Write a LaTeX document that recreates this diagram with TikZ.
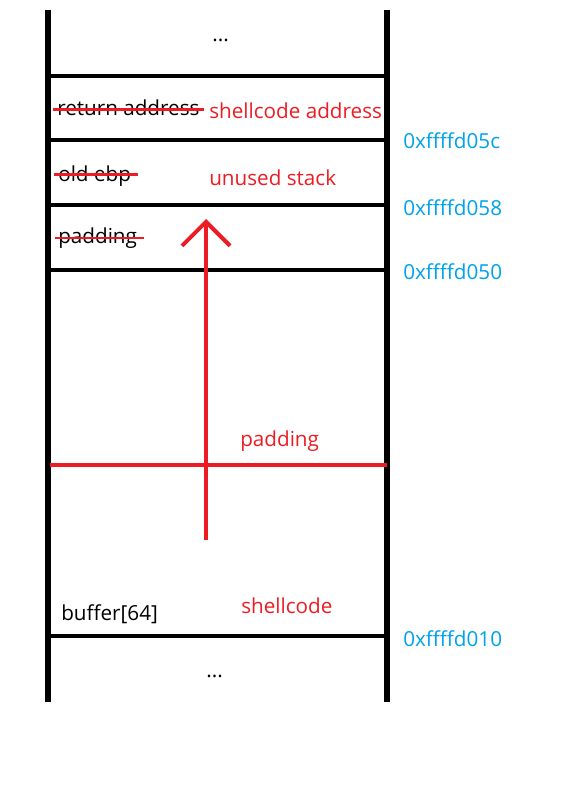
\documentclass[tikz,border=0pt]{standalone}
\usepackage{fontspec}
\setmainfont{Open Sans}
\usetikzlibrary{arrows.meta, positioning}
\definecolor{paintred}{RGB}{237,28,36}
\definecolor{paintblue}{RGB}{0,162,232}
\tikzset{
    % line styles
    wall/.style = {line width=3.8pt, black},
    slot/.style = {line width=3.4pt, black},
    redline/.style = {line width=3pt, paintred},
    strike/.style = {line width=2.2pt, paintred},
    % text styles
    old/.style = {anchor=west, inner sep=0pt, font=\fontsize{15.5}{18}\selectfont},
    new/.style = {old, text=paintred},
    addr/.style = {old, text=paintblue}
}

\begin{document}
\begin{tikzpicture}[x=0.75pt, y=-0.75pt]
        \useasboundingbox (0,0) rectangle (584,798);
        
        % stack walls
        \coordinate (topL) at (48,10);
        \coordinate (topR) at (387,10);
        \coordinate (botL) at (48,702);
        \coordinate (botR) at (387,702);
        \draw[wall] (topL) -- (botL);
        \draw[wall] (topR) -- (botR);
        
        % slot borders
        \foreach \name/\y in {b1/76, b2/140, b3/205, b4/270, b5/636} {
            \coordinate (\name L) at (48,\y);
            \coordinate (\name R) at (387,\y);
            \draw[slot] (\name L) -- (\name R);
        }
        
        % padding border
        \coordinate (padL) at (50,465);
        \coordinate (padR) at (387,465);
        \draw[redline] (padL) -- (padR);
        
        % overflow arrow
        \coordinate (tail) at (206,540);
        \coordinate (tip) at (206,219);
        \draw[redline, -{Straight Barb[length=18pt, width=36pt, line width=3pt]}] (tail) -- (tip);
        
        % old contents
        \node[old] (dots1) at (212,40) {...};
        \node[old] (ret) at (57,108) {return address};
        \node[old] (ebp) at (58,176) {old ebp};
        \node[old] (pad) at (58,238) {padding};
        \node[old] (buf) at (61,614) {buffer[64]};
        \node[old] (dots2) at (206,676) {...};
        
        \draw[strike] ([xshift=-3pt,yshift=-1pt]ret.west) -- ([xshift=3pt,yshift=-1pt]ret.east);
        \draw[strike] ([xshift=-3pt,yshift=1pt]ebp.west) -- ([xshift=5pt,yshift=1pt]ebp.east);
        \draw[strike] ([xshift=-2pt]pad.west) -- ([xshift=5pt]pad.east);
        
        % new contents
        \node[new] (sca) at (209,111) {shellcode address};
        \node[new] (unused) at (209,178) {unused stack};
        \node[new] (padnew) at (240,441) {padding};
        \node[new] (sc) at (241,606) {shellcode};
        
        % addresses
        \node[addr] (a05c) at (403,141) {0xffffd05c};
        \node[addr] (a058) at (403,208) {0xffffd058};
        \node[addr] (a050) at (403,272) {0xffffd050};
        \node[addr] (a010) at (403,639) {0xffffd010};
        
    \end{tikzpicture}
\end{document}
